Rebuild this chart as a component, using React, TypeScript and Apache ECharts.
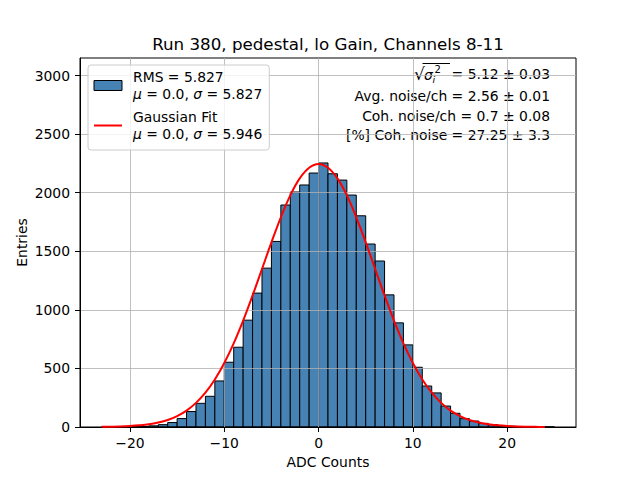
import React, { useEffect, useRef } from "react";
import * as echarts from "echarts";

// histogram bins (left edges, width 1 ADC count) and entries
const binStarts = [
  -23, -22, -21, -20, -19, -18, -17, -16, -15, -14, -13, -12, -11, -10, -9, -8,
  -7, -6, -5, -4, -3, -2, -1, 0, 1, 2, 3, 4, 5, 6, 7, 8, 9, 10, 11, 12, 13, 14,
  15, 16, 17, 18, 19, 20, 21, 22, 23, 24,
];
const binCounts = [
  1, 1, 2, 3, 5, 10, 20, 38, 72, 132, 202, 262, 393, 553, 681, 912, 1143, 1356,
  1584, 1895, 2006, 2066, 2168, 2254, 2162, 2108, 1980, 1803, 1562, 1417, 1128,
  889, 701, 510, 350, 291, 179, 117, 71, 51, 31, 20, 10, 6, 3, 2, 1, 1,
];

// gaussian fit curve
const fitX = [
  -23, -22, -21, -20, -19, -18, -17, -16, -15, -14, -13, -12, -11, -10, -9, -8,
  -7, -6, -5, -4, -3, -2, -1, 0, 1, 2, 3, 4, 5, 6, 7, 8, 9, 10, 11, 12, 13, 14,
  15, 16, 17, 18, 19, 20, 21, 22, 23, 24,
];
const fitY = [
  1.3, 2.4, 4.4, 8, 14, 23, 38, 60, 93, 140, 206, 293, 405, 546, 714, 908, 1123,
  1349, 1576, 1790, 1977, 2122, 2213, 2245, 2213, 2122, 1977, 1790, 1576, 1349,
  1123, 908, 714, 546, 405, 293, 206, 140, 93, 60, 38, 23, 14, 8, 4.4, 2.4, 1.3,
  0.7,
];

const xTicks = [-20, -10, 0, 10, 20];
const yTicks = [0, 500, 1000, 1500, 2000, 2500, 3000];

const noteLines = [
  "Avg. noise/ch = 2.56 ± 0.01",
  "Coh. noise/ch = 0.7 ± 0.08",
  "[%] Coh. noise = 27.25 ± 3.3",
];

const FONT = "DejaVu Sans";
const FS = 13.9;

const txt = (text: string, x: number, y: number, extra: any = {}) => ({
  type: "text" as const,
  x,
  y,
  style: {
    text,
    fontSize: FS,
    fontFamily: FONT,
    fill: "#000",
    textAlign: "left",
    textVerticalAlign: "middle",
    ...extra,
  },
});

const App = () => {
  const chartRef = useRef<HTMLDivElement>(null);

  useEffect(() => {
    if (!chartRef.current) return;
    const chart = echarts.init(chartRef.current, undefined, { renderer: "svg" });

    const histData = binStarts.map((lo, i) => [lo, lo + 1, binCounts[i]]);
    const fitData = fitX.map((x, i) => [x, fitY[i]]);

    const minus = (v: number) => (v < 0 ? "\u2212" + Math.abs(v) : String(v));

    const option: any = {
      animation: false,
      textStyle: { fontFamily: FONT },
      grid: {
        left: 80,
        right: 64,
        top: 58,
        bottom: 53,
        show: true,
        borderColor: "#000",
        borderWidth: 1,
      },
      xAxis: {
        type: "value",
        min: -25.3,
        max: 27.3,
        name: "ADC Counts",
        nameLocation: "middle",
        nameGap: 28,
        nameMoveOverlap: false,
        nameTextStyle: { fontSize: FS, color: "#000", fontFamily: FONT },
        axisLine: { show: true, onZero: false, lineStyle: { color: "#000", width: 1 } },
        axisTick: { show: true, length: 5, lineStyle: { color: "#000" }, customValues: xTicks },
        axisLabel: {
          customValues: xTicks,
          formatter: (v: number) => minus(v),
          fontSize: FS,
          color: "#000",
          margin: 9,
          fontFamily: FONT,
        },
        splitLine: { show: true, lineStyle: { color: "#b0b0b0", width: 0.8 } },
      },
      yAxis: {
        type: "value",
        min: 0,
        max: 3150,
        name: "Entries",
        nameLocation: "middle",
        nameGap: 51,
        nameMoveOverlap: false,
        nameTextStyle: { fontSize: FS, color: "#000", fontFamily: FONT },
        axisLine: { show: true, onZero: false, lineStyle: { color: "#000", width: 1 } },
        axisTick: { show: true, length: 5, lineStyle: { color: "#000" }, customValues: yTicks },
        axisLabel: {
          customValues: yTicks,
          formatter: (v: number) => String(v),
          fontSize: FS,
          color: "#000",
          margin: 10,
          fontFamily: FONT,
        },
        splitLine: { show: true, lineStyle: { color: "#b0b0b0", width: 0.8 } },
      },
      legend: {
        orient: "vertical",
        left: 88,
        top: 65,
        itemWidth: 28,
        itemHeight: 10,
        itemGap: 5,
        padding: [3, 7, 7, 5],
        backgroundColor: "rgba(255,255,255,0.8)",
        borderColor: "#cccccc",
        borderWidth: 1,
        borderRadius: 3,
        selectedMode: false,
        data: [
          {
            name: "hist",
            icon: "rect",
            itemStyle: { color: "#4682b4", borderColor: "#000", borderWidth: 1 },
          },
          {
            name: "fit",
            itemStyle: { opacity: 0 },
            lineStyle: { color: "#ff0000", width: 2 },
          },
        ],
        formatter: (name: string) =>
          name === "hist"
            ? "RMS = 5.827\n{i|μ} = 0.0, {i|σ} = 5.827"
            : "Gaussian Fit\n{i|μ} = 0.0, {i|σ} = 5.946",
        textStyle: {
          fontSize: FS,
          lineHeight: 17.5,
          color: "#000",
          fontFamily: FONT,
          padding: [0, 0, 0, 6],
          rich: {
            i: { fontStyle: "italic", fontSize: FS, lineHeight: 17.5, fontFamily: FONT },
          },
        },
      },
      graphic: [
        txt("Run 380, pedestal, lo Gain, Channels 8-11", 328, 44, {
          fontSize: 16.7,
          textAlign: "center",
        }),
        // sqrt(sigma_i^2) drawn piece by piece
        txt("√", 414, 74, { fontSize: 17 }),
        txt("σ", 424, 75, { fontStyle: "italic" }),
        txt("2", 434.5, 69, { fontSize: 10 }),
        txt("i", 432.5, 79, { fontSize: 9.5, fontStyle: "italic" }),
        {
          type: "line",
          shape: { x1: 422.5, y1: 63.5, x2: 450, y2: 63.5 },
          style: { stroke: "#000", lineWidth: 1 },
        },
        txt("= 5.12 ± 0.03", 550, 74, { textAlign: "right" }),
        ...noteLines.map((t, i) => txt(t, 550, 96 + i * 19.5, { textAlign: "right" })),
      ],
      series: [
        {
          name: "hist",
          type: "custom",
          z: -1,
          data: histData,
          encode: { x: [0, 1], y: 2 },
          renderItem: (params: any, api: any) => {
            const p0 = api.coord([api.value(0), api.value(2)]);
            const p1 = api.coord([api.value(1), 0]);
            return {
              type: "rect",
              shape: { x: p0[0], y: p0[1], width: p1[0] - p0[0], height: p1[1] - p0[1] },
              style: { fill: "#4682b4", stroke: "#000", lineWidth: 1 },
            };
          },
        },
        {
          name: "fit",
          type: "line",
          data: fitData,
          symbol: "none",
          showSymbol: false,
          smooth: 0.4,
          z: 3,
          lineStyle: { color: "#ff0000", width: 2 },
          itemStyle: { color: "#ff0000" },
        },
      ],
    };

    chart.setOption(option);
    return () => chart.dispose();
  }, []);

  return (
    <div
      ref={chartRef}
      style={{ position: "absolute", left: 0, top: 0, width: 640, height: 480 }}
    />
  );
};

export default App;
